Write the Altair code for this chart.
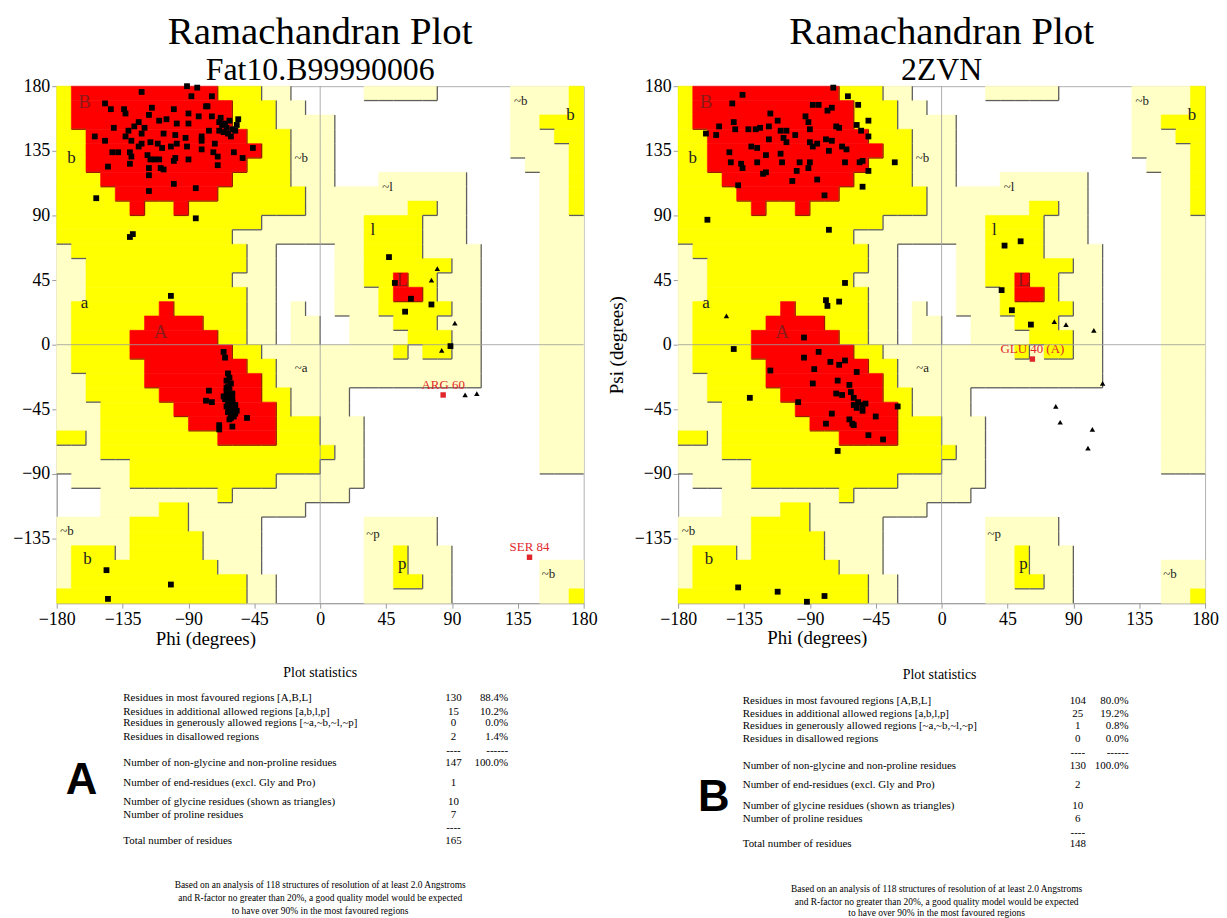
import altair as alt
import pandas as pd

SERIF = "Liberation Serif"

# ---------------- Region map (PROCHECK style), 10-degree cells ----------------
# rows: psi 180 -> -180 ; columns: phi -180 -> 180
# '.' disallowed, 'g' generously allowed, 'y' additionally allowed, 'R' most favoured
REGION_ROWS = [
    "y" + "R"*10 + "y"*3 + "g"*2 + "."*5 + "g"*5 + "."*5 + "g"*4 + "y",
    "y" + "R"*11 + "y"*3 + "g"*2 + "."*14 + "g"*4 + "y",
    "y" + "R"*11 + "y"*3 + "g"*4 + "."*12 + "g"*2 + "y"*3,
    "y"*2 + "R"*11 + "y"*3 + "g"*3 + "."*12 + "g"*3 + "y"*2,
    "y"*2 + "R"*12 + "y"*2 + "g"*3 + "."*12 + "g"*4 + "y",
    "y"*2 + "R"*11 + "y"*3 + "g"*3 + "."*13 + "g"*3 + "y",
    "y"*3 + "R"*9 + "y"*4 + "g"*3 + "."*3 + "g"*6 + "."*5 + "g"*2 + "y",
    "y"*4 + "R"*7 + "y"*6 + "g"*11 + "."*5 + "g"*2 + "y",
    "y"*5 + "R" + "y"*2 + "R" + "y"*8 + "g"*7 + "y"*2 + "g"*2 + "."*5 + "g"*2 + "y",
    "y"*14 + "g"*7 + "y"*4 + "g"*3 + "."*5 + "g"*3,
    "y"*12 + "g"*9 + "y"*4 + "g"*3 + "."*5 + "g"*3,
    "g" + "y"*12 + "g"*2 + "."*4 + "g"*2 + "y"*4 + "g"*4 + "."*4 + "g"*3,
    "g"*2 + "y"*11 + "g"*2 + "."*4 + "g"*2 + "y"*6 + "g"*2 + "."*4 + "g"*3,
    "g"*2 + "y"*10 + "g"*3 + "."*4 + "g"*2 + "y"*2 + "R" + "y"*2 + "g"*3 + "."*4 + "g"*3,
    "g"*2 + "y"*11 + "g"*2 + "."*4 + "g"*3 + "y" + "R"*2 + "y" + "g"*3 + "."*4 + "g"*3,
    "g" + "y"*6 + "R" + "y"*5 + "g"*2 + "." + "g" + "."*2 + "g"*3 + "y"*5 + "g"*2 + "."*4 + "g"*3,
    "g" + "y"*5 + "R"*4 + "y"*3 + "g"*2 + "." + "g"*2 + "."*2 + "g"*3 + "y"*3 + "g"*3 + "."*4 + "g"*3,
    "g" + "y"*4 + "R"*6 + "y"*2 + "g"*2 + "." + "g"*2 + "."*2 + "g"*4 + "y"*3 + "g"*2 + "."*4 + "g"*3,
    "g" + "y"*4 + "R"*7 + "y"*2 + "g"*9 + "y" + "g" + "y"*2 + "g"*2 + "."*4 + "g"*3,
    "g" + "y"*5 + "R"*7 + "y"*2 + "g"*14 + "."*4 + "g"*3,
    "g"*2 + "y"*4 + "R"*8 + "y" + "g"*14 + "."*4 + "g"*3,
    "g"*2 + "y"*5 + "R"*7 + "y"*2 + "g"*4 + "."*13 + "g"*3,
    "g"*3 + "y"*5 + "R"*7 + "y" + "g"*4 + "."*13 + "g"*3,
    "g"*3 + "y"*6 + "R"*6 + "y"*3 + "g"*3 + "."*12 + "g"*3,
    "y"*2 + "g" + "y"*8 + "R"*4 + "y"*3 + "g"*3 + "."*12 + "g"*3,
    "g"*3 + "y"*16 + "g"*2 + "."*12 + "g"*3,
    "g"*5 + "y"*13 + "g"*3 + "."*12 + "g"*3,
    "." + "g"*4 + "y"*10 + "g"*6 + "."*15,
    "."*3 + "g"*8 + "y" + "g"*8 + "."*16,
    "."*3 + "g"*4 + "y"*2 + "g"*8 + "."*19,
    "g"*5 + "y"*4 + "g"*5 + "."*7 + "g"*5 + "."*10,
    "g"*5 + "y"*5 + "g"*4 + "."*7 + "g"*5 + "."*10,
    "g" + "y"*3 + "g" + "y"*5 + "g"*4 + "."*7 + "g"*2 + "y" + "g"*3 + "."*9,
    "g" + "y"*10 + "g"*3 + "."*7 + "g"*2 + "y" + "g"*3 + "."*6 + "g"*3,
    "g" + "y"*12 + "g"*2 + "."*6 + "g"*2 + "y"*2 + "g"*2 + "."*6 + "g"*3,
    "y"*13 + "g"*2 + "."*6 + "g"*6 + "."*6 + "g"*2 + "y",
]
REGION_ROWS = [r.ljust(36, ".")[:36] for r in REGION_ROWS]

REGION_LABELS_CORE = [("B", -161, 169), ("A", -109, 9), ("L", 56, 45)]
REGION_LABELS_BIG = [("b", -170, 130), ("a", -161, 29), ("l", 36, 80), ("b", -159, -149),
                     ("p", 56, -153), ("b", 171, 160)]
REGION_LABELS_SMALL = [("~b", -13, 130), ("~l", 46, 110), ("~b", 137, 170), ("~a", -13, -16),
                       ("~b", -173, -130), ("~p", 36, -132), ("~b", 156, -160)]

# ---------------- Residues ----------------
A_SQUARES = [
    (-91, 180), (-84, 179), (-122, 176), (-88, 173), (-74, 173), (-77, 166), (-147, 168), (-143, 164),
    (-134, 164), (-133, 161), (-115, 165), (-100, 164), (-90, 161), (-78, 166), (-117, 160), (-110, 156),
    (-98, 154), (-90, 154), (-83, 159), (-74, 159), (-69, 155), (-67, 153), (-65, 154), (-64, 151),
    (-66, 148), (-69, 149), (-56, 157), (-57, 153), (-76, 149), (-81, 145), (-81, 142), (-141, 151),
    (-154, 145), (-147, 142), (-131, 149), (-127, 152), (-124, 155), (-122, 147), (-120, 151), (-133, 145),
    (-129, 142), (-122, 140), (-124, 138), (-116, 141), (-107, 147), (-99, 146), (-102, 138), (-98, 140),
    (-91, 138), (-90, 129), (-92, 144), (-72, 140), (-73, 134), (-70, 131), (-59, 134), (-53, 130),
    (-46, 137), (-142, 134), (-138, 134), (-130, 134), (-129, 131), (-130, 126), (-118, 132), (-116, 129),
    (-110, 129), (-109, 123), (-113, 129), (-107, 122), (-100, 128), (-99, 130), (-145, 124), (-117, 123),
    (-117, 118), (-100, 112), (-85, 109), (-117, 107), (-70, 125), (-81, 136), (-108, 137), (-111, 140),
    (-62, 156), (-60, 150), (-63, 147), (-68, 158), (-61, 145), (-58, 149), (-105, 157),
    (-153, 102), (-130, 75), (-128, 77), (-85, 88), (-102, 34),
    (-66, -5), (-65, -9), (-76, -32), (-78, -39), (-74, -40), (-69, -56), (-69, -59), (-60, -57),
    (-50, -51), (-61, -51),
    (-63, -20), (-62, -23), (-64, -25), (-61, -27), (-63, -29), (-62, -31), (-64, -33), (-60, -34),
    (-63, -35), (-61, -37), (-65, -38), (-62, -39), (-60, -40), (-63, -41), (-61, -42), (-64, -43),
    (-59, -44), (-62, -45), (-60, -46), (-63, -47), (-58, -48), (-61, -49), (-59, -50), (-62, -41),
    (-60, -38), (-66, -36), (-58, -42), (-57, -46), (-64, -30), (-62, -52),
    (47, 61), (51, 43), (62, 32), (58, 23), (76, 28), (89, -1),
    (-146, -157), (-102, -167), (-145, -177),
]
A_TRIANGLES = [(80, 53), (76, 45), (92, 15), (83, -4), (99, -35), (107, -34)]
A_FLAGGED = [("ARG 60", 84, -35), ("SER 84", 143, -148)]

B_SQUARES = [
    (-74, 179), (-64, 173), (-57, 167), (-50, 156), (-58, 153), (-55, 149), (-50, 145), (-32, 127),
    (-50, 121), (-54, 110), (-136, 174), (-143, 168), (-117, 161), (-88, 167), (-84, 167), (-78, 163),
    (-75, 165), (-93, 159), (-152, 152), (-161, 147), (-142, 155), (-141, 150), (-132, 150), (-127, 150),
    (-124, 151), (-118, 152), (-112, 156), (-110, 149), (-106, 149), (-100, 146), (-91, 155), (-90, 150),
    (-72, 152), (-70, 151), (-118, 143), (-130, 138), (-126, 137), (-145, 134), (-144, 127), (-137, 126),
    (-136, 123), (-126, 127), (-122, 119), (-120, 120), (-110, 133), (-109, 127), (-97, 127), (-99, 121),
    (-102, 114), (-91, 123), (-90, 127), (-85, 140), (-79, 143), (-75, 142), (-85, 115), (-68, 138),
    (-65, 136), (-66, 127), (-56, 127), (-139, 111), (-80, 104), (-154, 146), (-120, 132), (-108, 144),
    (-106, 141), (-90, 141), (-88, 138), (-77, 135), (-54, 128),
    (-160, 87), (-77, 80), (-66, 43), (-79, 31), (-78, 27), (-70, 30),
    (-142, -3), (-94, 5), (-94, -9), (-84, -5), (-76, -12), (-70, -14), (-87, -17), (-117, -18),
    (-66, -11), (-58, -19), (-88, -27), (-71, -25), (-72, -34), (-68, -35), (-63, -28), (-62, -33),
    (-60, -37), (-57, -40), (-54, -42), (-52, -41), (-58, -44), (-54, -46), (-60, -42), (-131, -37),
    (-98, -40), (-75, -48), (-79, -55), (-63, -52), (-60, -56), (-61, -55), (-45, -50), (-50, -63),
    (-40, -66), (-30, -43), (-71, -74),
    (-139, -169), (-112, -172), (-80, -175), (-92, -179),
    (43, 69), (54, 72), (41, 38), (48, 24), (61, 14),
]
B_TRIANGLES = [(77, 16), (85, 14), (104, 10), (110, -27), (78, -43), (81, -54), (103, -59), (100, -72),
               (-147, 20)]
B_FLAGGED = [("GLU 40 (A)", 62, -10)]

# ---------------- Statistics ----------------
STAT_LABELS = [
    "Residues in most favoured regions  [A,B,L]",
    "Residues in additional allowed regions  [a,b,l,p]",
    "Residues in generously allowed regions  [~a,~b,~l,~p]",
    "Residues in disallowed regions",
    "Number of non-glycine and non-proline residues",
    "Number of end-residues (excl. Gly and Pro)",
    "Number of glycine residues (shown as triangles)",
    "Number of proline residues",
    "Total number of residues",
]
A_COUNTS = ["130", "15", "0", "2", "147", "1", "10", "7", "165"]
A_PCTS = ["88.4%", "10.2%", "0.0%", "1.4%", "100.0%"]
B_COUNTS = ["104", "25", "1", "0", "130", "2", "10", "6", "148"]
B_PCTS = ["80.0%", "19.2%", "0.8%", "0.0%", "100.0%"]
FOOTNOTE = [
    "Based on an analysis of 118 structures of resolution of at least 2.0 Angstroms",
    "and R-factor no greater than 20%, a good quality model would be expected",
    "to have over 90% in the most favoured regions",
]

LEVEL = {".": 0, "g": 1, "y": 2, "R": 3}
FILL = {"g": "#FFFFC6", "y": "#FFFF00", "R": "#FF0000"}


def region_tables():
    cells, vedges, hedges = [], [], []
    for r, row in enumerate(REGION_ROWS):
        top = 180 - 10 * r
        bot = top - 10
        c = 0
        while c < 36:
            ch = row[c]
            s = c
            while c < 36 and row[c] == ch:
                c += 1
            if ch != ".":
                cells.append(dict(x=-180 + 10 * s, x2=-180 + 10 * c, y=top, y2=bot, region=ch))
        for c in range(36):
            lv = LEVEL[row[c]]
            if lv == 0:
                continue
            kind = "core" if lv == 3 else "other"
            if c < 35 and LEVEL[row[c + 1]] < lv:
                vedges.append(dict(x=-170 + 10 * c, y=top, y2=bot, kind=kind))
            if r < 35 and LEVEL[REGION_ROWS[r + 1][c]] < lv:
                hedges.append(dict(x=-180 + 10 * c, x2=-170 + 10 * c, y=bot, kind=kind))
    return pd.DataFrame(cells), pd.DataFrame(vedges), pd.DataFrame(hedges)


CELLS, VEDGES, HEDGES = region_tables()

XS = alt.Scale(domain=[-180, 180], nice=False, zero=False)
YS = alt.Scale(domain=[-180, 180], nice=False, zero=False)
XTICKS = [-180, -135, -90, -45, 0, 45, 90, 135, 180]
YTICKS = [-135, -90, -45, 0, 45, 90, 135, 180]
EDGE_SCALE = alt.Scale(domain=["core", "other"], range=["#9A1B00", "#5E5E5E"])
REGION_SCALE = alt.Scale(domain=list(FILL.keys()), range=list(FILL.values()))

W, H = 530, 520
DY = 3  # vertical shift of the annotation block below the plot

AXIS_STYLE = dict(labelFont=SERIF, labelFontSize=18, labelColor="black", domainColor="#9A9A9A",
                  tickColor="#9A9A9A", tickSize=5, labelPadding=2, grid=False, labelOverlap=False)


def text_layer(s, x, y, size, align="left", font=SERIF, color="black", weight="normal"):
    return alt.Chart(pd.DataFrame({"t": [s]})).mark_text(
        align=align, baseline="middle", font=font, fontSize=size, color=color, fontWeight=weight
    ).encode(x=alt.value(x), y=alt.value(y + DY), text="t:N")


def panel(subtitle, squares, triangles, flagged, counts, pcts, ytitle, lay):
    xaxis = alt.Axis(values=XTICKS, title=None, labelFlush=False, **AXIS_STYLE)
    if ytitle:
        yaxis = alt.Axis(values=YTICKS, title=ytitle, titlePadding=8, titleFont=SERIF,
                         titleFontSize=19, titleFontWeight="normal", titleColor="black", **AXIS_STYLE)
    else:
        yaxis = alt.Axis(values=YTICKS, title=None, **AXIS_STYLE)

    def X(f):
        return alt.X(f, type="quantitative", scale=XS, axis=xaxis)

    def Y(f):
        return alt.Y(f, type="quantitative", scale=YS, axis=yaxis)

    cells = alt.Chart(CELLS).mark_rect(strokeWidth=0.6).encode(
        x=X("x"), x2="x2", y=Y("y"), y2="y2",
        fill=alt.Fill("region:N", scale=REGION_SCALE, legend=None),
        stroke=alt.Stroke("region:N", scale=REGION_SCALE, legend=None),
    )
    vedge = alt.Chart(VEDGES).mark_rule(strokeWidth=1.3).encode(
        x=X("x"), y=Y("y"), y2="y2",
        color=alt.Color("kind:N", scale=EDGE_SCALE, legend=None))
    hedge = alt.Chart(HEDGES).mark_rule(strokeWidth=1.3).encode(
        x=X("x"), x2="x2", y=Y("y"),
        color=alt.Color("kind:N", scale=EDGE_SCALE, legend=None))
    zero = pd.DataFrame({"v": [0]})
    zx = alt.Chart(zero).mark_rule(color="#9A9A9A", strokeWidth=0.8).encode(x=X("v"))
    zy = alt.Chart(zero).mark_rule(color="#9A9A9A", strokeWidth=0.8).encode(y=Y("v"))

    def lab_df(lst):
        return pd.DataFrame(lst, columns=["t", "phi", "psi"])

    core_lab = alt.Chart(lab_df(REGION_LABELS_CORE)).mark_text(
        font=SERIF, fontSize=19, color="#8B1A1A").encode(x=X("phi"), y=Y("psi"), text="t:N")
    big_lab = alt.Chart(lab_df(REGION_LABELS_BIG)).mark_text(
        font=SERIF, fontSize=17, color="#222222").encode(x=X("phi"), y=Y("psi"), text="t:N")
    small_lab = alt.Chart(lab_df(REGION_LABELS_SMALL)).mark_text(
        font=SERIF, fontSize=13, color="#222222").encode(x=X("phi"), y=Y("psi"), text="t:N")

    sq = alt.Chart(pd.DataFrame(squares, columns=["phi", "psi"])).mark_point(
        shape="square", filled=True, size=34, color="black", opacity=1
    ).encode(x=X("phi"), y=Y("psi"))
    tri = alt.Chart(pd.DataFrame(triangles, columns=["phi", "psi"])).mark_point(
        shape="triangle-up", filled=True, size=30, color="black", opacity=1
    ).encode(x=X("phi"), y=Y("psi"))
    fdf = pd.DataFrame(flagged, columns=["t", "phi", "psi"])
    fpt = alt.Chart(fdf).mark_point(shape="square", filled=True, size=30, color="#E0262B", opacity=1
                                    ).encode(x=X("phi"), y=Y("psi"))
    ftx = alt.Chart(fdf).mark_text(font=SERIF, fontSize=13, color="#E0262B", dy=-10
                                   ).encode(x=X("phi"), y=Y("psi"), text="t:N")

    layers = [cells, vedge, hedge, zx, zy, core_lab, big_lab, small_lab, sq, tri, fpt, ftx]

    # annotations below the plot
    layers.append(text_layer("Phi (degrees)", lay["phi_x"], lay["phi_y"], 19, align="center"))
    layers.append(text_layer("Plot statistics", lay["st_x"], lay["st_y"], 14, align="center"))
    for i, lbl in enumerate(STAT_LABELS):
        y = lay["rows"][i]
        layers.append(text_layer(lbl, lay["lab_x"], y, 11))
        layers.append(text_layer(counts[i], lay["cnt_x"], y, 11, align="center"))
        if i < len(pcts):
            layers.append(text_layer(pcts[i], lay["pct_x"], y, 11, align="right"))
    for dy in lay["dash"]:
        layers.append(text_layer("----", lay["cnt_x"], dy, 11, align="center"))
    layers.append(text_layer("------", lay["pct_x"], lay["dash"][0], 11, align="right"))
    for i, line in enumerate(FOOTNOTE):
        layers.append(text_layer(line, lay["foot_x"], lay["foot"][i], 9.5, align="center"))
    layers.append(text_layer(lay["letter"], lay["let_x"], lay["let_y"], 44, align="center",
                             font="Liberation Sans", weight="bold"))

    return alt.layer(*layers).properties(
        width=W, height=H,
        title=alt.TitleParams(
            text="Ramachandran Plot", subtitle=subtitle, font=SERIF, fontSize=39,
            fontWeight="normal", color="black", subtitleFont=SERIF, subtitleFontSize=32,
            subtitleColor="black", subtitlePadding=3, offset=-9, anchor="middle"),
    )


LAY_A = dict(phi_x=150, phi_y=553, st_x=265, st_y=587, lab_x=67, cnt_x=399, pct_x=454,
             rows=[612, 626, 638, 652, 678, 698, 717, 730, 756], dash=[666, 743],
             foot_x=265, foot=[800, 814, 827], letter="A", let_x=25, let_y=696)
LAY_B = dict(phi_x=140, phi_y=552, st_x=263, st_y=589, lab_x=65, cnt_x=402, pct_x=453,
             rows=[615, 628, 641, 654, 681, 700, 721, 734, 759], dash=[668, 748],
             foot_x=260, foot=[804, 818, 829], letter="B", let_x=36, let_y=713)

pa = panel("Fat10.B99990006", A_SQUARES, A_TRIANGLES, A_FLAGGED, A_COUNTS, A_PCTS, None, LAY_A)
pb = panel("2ZVN", B_SQUARES, B_TRIANGLES, B_FLAGGED, B_COUNTS, B_PCTS, "Psi (degrees)", LAY_B)

chart = alt.hconcat(pa, pb, spacing=95, bounds="flush").properties(
    padding={"left": 4, "top": 2, "right": 0, "bottom": 0},
    background="white",
).configure_axis(
    labelFont=SERIF, labelFontSize=18, labelColor="black", domainColor="#9A9A9A",
    tickColor="#9A9A9A", tickSize=5, labelPadding=2, grid=False,
    titleFont=SERIF, titleFontSize=19, titleFontWeight="normal", titleColor="black",
).configure_view(stroke="#B0B0B0", strokeWidth=1)

chart.save("out.html", embed_options={"renderer": "svg", "actions": False})
